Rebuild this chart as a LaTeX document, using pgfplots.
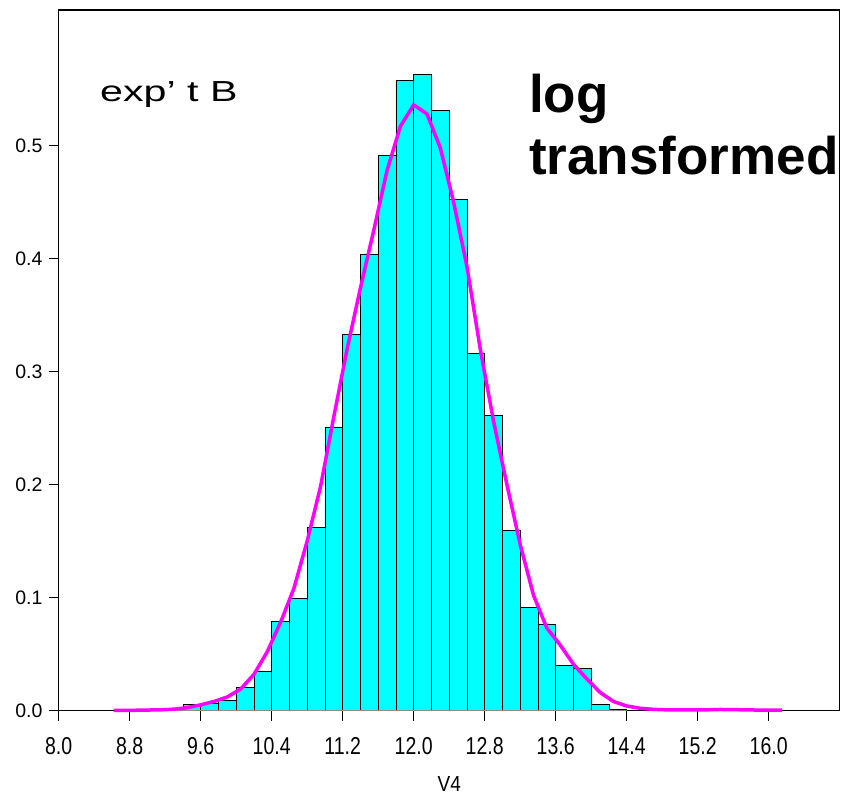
\documentclass[border=0pt]{standalone}
\usepackage{fontspec}
\setmainfont{Liberation Sans}
\usepackage{graphicx}
\usepackage{pgfplots}
\pgfplotsset{compat=1.18}
\definecolor{histcyan}{RGB}{0,255,255}
\definecolor{fitmag}{RGB}{255,0,255}
\begin{document}
\begin{tikzpicture}
\begin{axis}[
  name=ax,
  at={(0pt,0pt)}, anchor=south west,
  scale only axis,
  width=781pt, height=700.5pt,
  xmin=8, xmax=16.8, ymin=0, ymax=0.62,
  axis line style={draw=none},
  tick pos=left,
  tick align=outside,
  major tick length=10pt,
  xtick style={draw=black, line width=1pt},
  ytick style={draw=black, line width=1pt},
  xtick={8,8.8,9.6,10.4,11.2,12,12.8,13.6,14.4,15.2,16},
  ytick={0,0.1,0.2,0.3,0.4,0.5},
  /pgf/number format/fixed,
  /pgf/number format/fixed zerofill,
  /pgf/number format/precision=1,
  /pgf/number format/assume math mode=true,
  xticklabel={\scalebox{1}[1.25]{\pgfmathprintnumber{\tick}}},
  xticklabel style={font=\fontsize{19.5}{20}\selectfont, inner sep=0pt, anchor=north, yshift=-17pt},
  yticklabel style={font=\fontsize{19.5}{20}\selectfont, inner sep=0pt, anchor=east, xshift=-6pt},
  xlabel={\scalebox{1}[1.15]{V4}},
  xlabel style={font=\fontsize{19}{20}\selectfont, at={(rel axis cs:0.5,0)}, anchor=base, inner sep=0pt, yshift=-81pt},
  clip=false,
]
\addplot[ybar interval, fill=histcyan, draw=black, line width=0.8pt] coordinates {
(8.0,0) (8.2,0) (8.4,0) (8.6,0) (8.8,0) (9.0,0)
(9.2,0.001) (9.4,0.0056) (9.6,0.006) (9.8,0.009)
(10.0,0.0206) (10.2,0.035) (10.4,0.079) (10.6,0.099) (10.8,0.162)
(11.0,0.251) (11.2,0.333) (11.4,0.404) (11.6,0.491) (11.8,0.558)
(12.0,0.563) (12.2,0.531) (12.4,0.452) (12.6,0.316) (12.8,0.261)
(13.0,0.159) (13.2,0.091) (13.4,0.076) (13.6,0.040) (13.8,0.037)
(14.0,0.0056) (14.2,0.0012) (14.4,0) (14.6,0) (14.8,0)
(15.0,0) (15.2,0) (15.4,0.001) (15.6,0) (15.8,0)
(16.0,0) (16.2,0) (16.4,0) (16.6,0) (16.8,0)
};
\draw[black!45, line width=1pt] (axis cs:9.2,0) -- (axis cs:14.4,0);
\addplot[fitmag, line width=3.5pt, line join=round] coordinates {
(8.62,0.0001) (8.70,0.0001) (8.85,0.0002) (9.00,0.0004) (9.15,0.0006) (9.30,0.0012)
(9.45,0.0025) (9.60,0.0050) (9.75,0.0080) (9.90,0.0120) (10.05,0.0190)
(10.20,0.0320) (10.35,0.0520) (10.50,0.0780) (10.65,0.1080) (10.80,0.1500)
(10.95,0.1980) (11.10,0.2600) (11.25,0.3200) (11.40,0.3740) (11.55,0.4250)
(11.70,0.4780) (11.85,0.5170) (12.00,0.5360) (12.15,0.5280) (12.30,0.4980)
(12.45,0.4500) (12.60,0.3930) (12.75,0.3200) (12.90,0.2560) (13.05,0.2000)
(13.20,0.1470) (13.35,0.1020) (13.50,0.0730) (13.65,0.0580) (13.80,0.0410)
(13.95,0.0280) (14.10,0.0160) (14.25,0.0080) (14.40,0.0040) (14.55,0.0020)
(14.70,0.0010) (14.85,0.0006) (15.00,0.0005) (15.15,0.0005) (15.30,0.0006)
(15.45,0.0009) (15.60,0.0008) (15.75,0.0005) (15.90,0.0004) (16.05,0.0004) (16.15,0.0004)
};
\draw[black, line width=1.5pt, line join=miter] (rel axis cs:0,0) -- (rel axis cs:0,1) -- (rel axis cs:1,1) -- (rel axis cs:1,0);
\end{axis}
\node[anchor=base west, font=\fontsize{29}{32}\selectfont, inner sep=0pt] at (41.3pt,608.5pt) {\scalebox{1.42}[1]{exp’ t B}};
\node[anchor=base west, font=\fontsize{53}{60}\bfseries\selectfont, inner sep=0pt] at (470.3pt,597.5pt) {log};
\node[anchor=base west, font=\fontsize{53}{60}\bfseries\selectfont, inner sep=0pt] at (470.3pt,535.5pt) {transformed};
\pgfresetboundingbox
\path (-58.7pt,-85.5pt) rectangle (782.3pt,710.5pt);
\end{tikzpicture}
\end{document}
